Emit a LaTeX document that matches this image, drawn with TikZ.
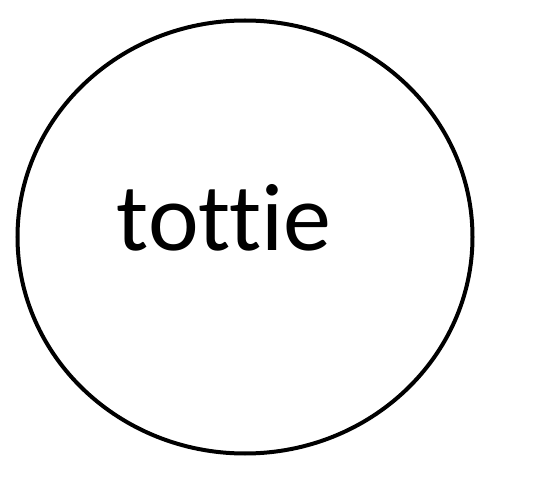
\documentclass[tikz,border=0pt]{standalone}
\usetikzlibrary{shapes.geometric}
\usepackage{fontspec}
\setmainfont[Ligatures={NoCommon,NoRare}]{Carlito}
\begin{document}
\begin{tikzpicture}[x=1pt,y=1pt]
\useasboundingbox (0,0) rectangle (533,488);
\tikzset{circ/.style={draw=black,line width=4pt}}
\node[circ,ellipse,minimum width=455pt,minimum height=433pt,inner sep=0pt] (c) at (245,251) {};
\node[anchor=base,inner sep=0pt,font=\fontsize{96}{100}\selectfont] (t) at (224,237) {tottie};
\end{tikzpicture}
\end{document}
